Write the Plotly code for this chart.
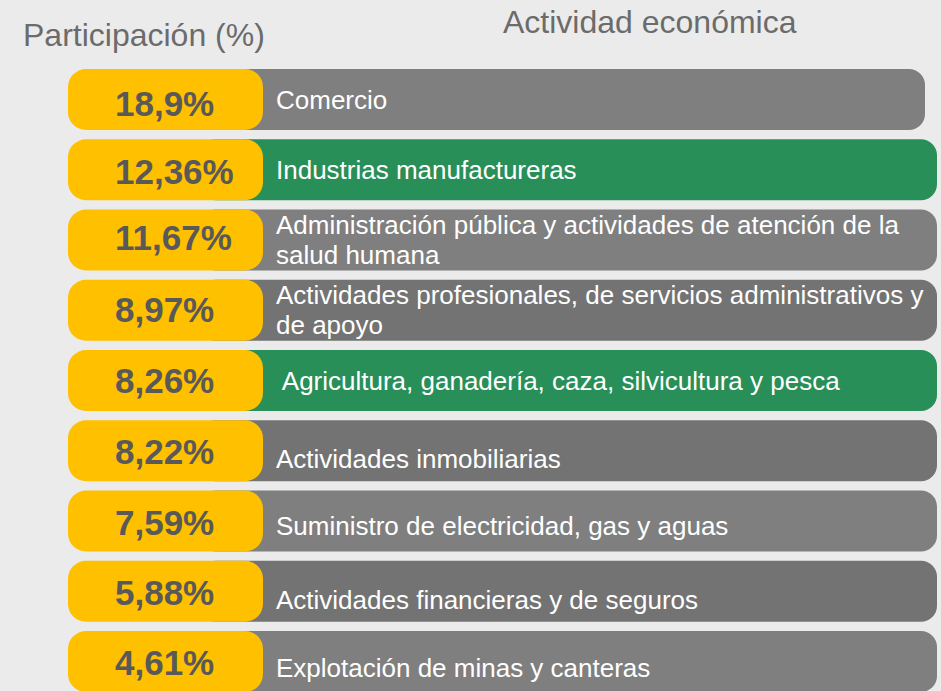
import plotly.graph_objects as go

# ---- data ----
categories = [
    "Comercio",
    "Industrias manufactureras",
    "Administración pública y actividades de atención de la<br>salud humana",
    "Actividades profesionales, de servicios administrativos y<br>de apoyo",
    " Agricultura, ganadería, caza, silvicultura y pesca",
    "Actividades inmobiliarias",
    "Suministro de electricidad, gas y aguas",
    "Actividades financieras y de seguros",
    "Explotación de minas y canteras",
]
participation = [18.9, 12.36, 11.67, 8.97, 8.26, 8.22, 7.59, 5.88, 4.61]
title_left = "Participación (%)"
title_right = "Actividad económica"

# ---- styles ----
row_colors = ["#7f7f7f", "#288f58", "#7f7f7f", "#737373", "#288f58",
              "#737373", "#7f7f7f", "#737373", "#7f7f7f"]
row_len = [725, 737, 737, 737, 737, 737, 737, 737, 737]
text_yshift = [0, 0, 0, 0, 0, -8, -5, -9, -6]
pct_yshift = [-4, -2, 3, 1, 0, -1, -1, -1, -1]
YELLOW = "#ffc000"
BG = "#ebebeb"
FONT = "Liberation Sans, Arial, sans-serif"
LINE_GAP = 30

n = len(categories)
idx = list(range(n))
labels = [f"{v}".replace(".", ",") + "%" for v in participation]

fig = go.Figure()

# gray / green rows
fig.add_trace(go.Bar(
    y=idx, x=row_len, base=[200] * n, orientation="h",
    marker=dict(color=row_colors, cornerradius=16, line=dict(width=0)),
    width=0.868, hoverinfo="skip", showlegend=False,
))
# yellow pills
fig.add_trace(go.Bar(
    y=idx, x=[195] * n, base=[68] * n, orientation="h",
    marker=dict(color=YELLOW, cornerradius=18, line=dict(width=0)),
    width=0.868, hoverinfo="skip", showlegend=False,
))

# percentage labels
for i, (t, ys) in enumerate(zip(labels, pct_yshift)):
    fig.add_annotation(
        x=113, y=i, xref="x", yref="y", text=t, showarrow=False,
        xanchor="left", yanchor="middle", yshift=ys,
        font=dict(family=FONT, size=35, color="#595959", weight="bold"),
    )

# category labels
for i, (c, ys) in enumerate(zip(categories, text_yshift)):
    lines = c.split("<br>")
    m = len(lines)
    for k, line in enumerate(lines):
        off = ((m - 1) / 2 - k) * LINE_GAP
        fig.add_annotation(
            x=274, y=i, xref="x", yref="y", text=line, showarrow=False,
            xanchor="left", yanchor="middle", align="left", yshift=ys + off,
            font=dict(family=FONT, size=26, color="white"),
        )

# headers
fig.add_annotation(x=21, y=1 - 35 / 691, xref="x", yref="paper", text=title_left,
                   showarrow=False, xanchor="left", yanchor="middle",
                   font=dict(family=FONT, size=32, color="#6b6b6b"))
fig.add_annotation(x=650, y=1 - 22 / 691, xref="x", yref="paper", text=title_right,
                   showarrow=False, xanchor="center", yanchor="middle",
                   font=dict(family=FONT, size=32, color="#6b6b6b"))

pitch = 70.25
top_center = 99.5
fig.update_layout(
    width=941, height=691,
    margin=dict(l=0, r=0, t=0, b=0),
    paper_bgcolor=BG, plot_bgcolor=BG,
    barmode="overlay",
    xaxis=dict(range=[0, 941], visible=False, fixedrange=True),
    yaxis=dict(range=[(691 - top_center) / pitch, -top_center / pitch],
               visible=False, fixedrange=True),
)

fig.write_html("out.html", config={"displayModeBar": False},
               post_script="document.body.style.margin='0';")
